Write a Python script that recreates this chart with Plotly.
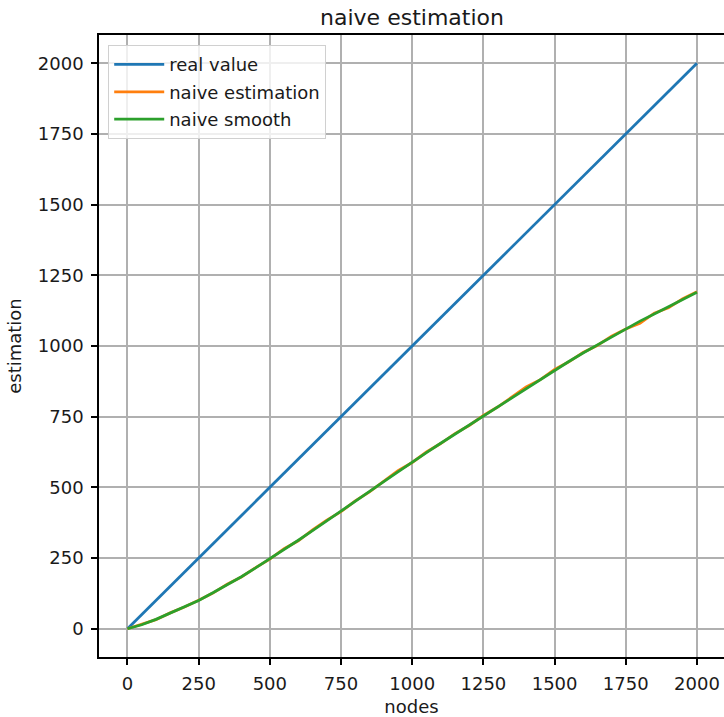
import plotly.graph_objects as go

nodes = [0, 50, 100, 150, 200, 250, 300, 350, 400, 450, 500, 550, 600, 650, 700, 750, 800, 850, 900, 950,
         1000, 1050, 1100, 1150, 1200, 1250, 1300, 1350, 1400, 1450, 1500, 1550, 1600, 1650, 1700, 1750,
         1800, 1850, 1900, 1950, 2000]
real_value = [0, 50, 100, 150, 200, 250, 300, 350, 400, 450, 500, 550, 600, 650, 700, 750, 800, 850, 900, 950,
              1000, 1050, 1100, 1150, 1200, 1250, 1300, 1350, 1400, 1450, 1500, 1550, 1600, 1650, 1700, 1750,
              1800, 1850, 1900, 1950, 2000]
naive_estimation = [0, 15, 32, 56, 77, 101, 126, 157, 183, 216, 246, 283, 311, 350, 384, 414, 452, 484, 522, 559,
                    588, 625, 655, 690, 719, 754, 784, 821, 855, 881, 917, 944, 977, 1002, 1035, 1060,
                    1080, 1116, 1135, 1167, 1192]
naive_smooth = [0, 14, 33, 55, 78, 100, 127, 155, 184, 215, 247, 280, 313, 347, 381, 415, 450, 485, 520, 555,
                590, 623, 656, 688, 720, 752, 785, 818, 851, 883, 915, 945, 975, 1004, 1033, 1062,
                1088, 1113, 1138, 1163, 1190]

tick_vals = [0, 250, 500, 750, 1000, 1250, 1500, 1750, 2000]

fig = go.Figure()
fig.add_trace(go.Scatter(x=nodes, y=real_value, mode="lines", name="real value", legendgroup="a",
                         line=dict(color="#1f77b4", width=2.8)))
fig.add_trace(go.Scatter(x=nodes, y=naive_estimation, mode="lines", name="naive estimation", legendgroup="b",
                         line=dict(color="#ff7f0e", width=2.8)))
fig.add_trace(go.Scatter(x=nodes, y=naive_smooth, mode="lines", name="naive smooth", legendgroup="c",
                         line=dict(color="#2ca02c", width=2.8)))

font = "DejaVu Sans"
txt = "#1a1a1a"
axis_common = dict(
    showgrid=True, gridcolor="#b0b0b0", gridwidth=1.5,
    showline=True, linecolor="black", linewidth=1.5,
    ticks="outside", ticklen=6, tickwidth=1.5, tickcolor="black",
    zeroline=False, tickfont=dict(family=font, size=18, color=txt),
    tickvals=tick_vals, ticktext=[str(v) for v in tick_vals],
    ticklabelstandoff=4,
)

fig.update_layout(
    width=724, height=717,
    margin=dict(l=99, r=0, t=35, b=60),
    paper_bgcolor="white", plot_bgcolor="white",
    title=dict(text="naive estimation", x=412 / 724, xanchor="center", y=1 - 17 / 717, yanchor="middle",
               font=dict(family=font, size=22, color=txt)),
    xaxis=dict(range=[-100, 2095], mirror=True,
               title=dict(text="nodes", font=dict(family=font, size=18, color=txt), standoff=8),
               **axis_common),
    yaxis=dict(range=[-100, 2100], mirror=False,
               title=dict(text="estimation", font=dict(family=font, size=18, color=txt), standoff=12),
               **axis_common),
    legend=dict(x=9 / 625, y=1 - 10 / 622, xanchor="left", yanchor="top",
                bgcolor="rgba(255,255,255,0.8)", bordercolor="#d0d0d0", borderwidth=1.2,
                font=dict(family=font, size=18, color=txt), tracegroupgap=1, itemwidth=50),
    showlegend=True,
)

fig.write_html("out.html")
